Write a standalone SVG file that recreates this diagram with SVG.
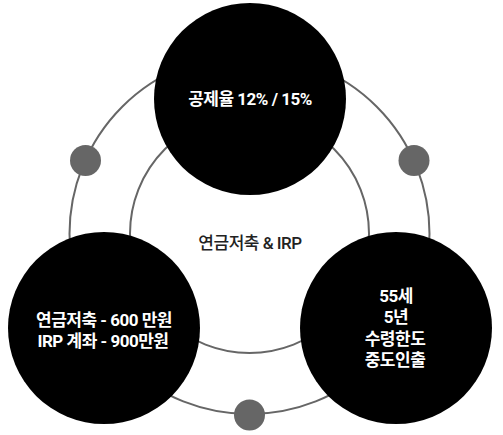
<svg xmlns="http://www.w3.org/2000/svg" width="503" height="435" viewBox="0 0 503 435">
<style>
.ring{fill:none;stroke:#666;stroke-width:2}
.dot{fill:#666}
.node{fill:#000}
.lbl{font-family:Roboto,"Noto Sans CJK KR",sans-serif;font-size:17px;font-weight:700;fill:#fff;text-anchor:middle;letter-spacing:-0.5px}
.center{font-family:Roboto,"Noto Sans CJK KR",sans-serif;font-size:17px;font-weight:500;fill:#222;text-anchor:middle;letter-spacing:-0.5px}
</style>
<rect width="503" height="435" fill="#fff"/>
<g id="connectors">
<circle class="ring" cx="249.5" cy="234" r="180"/>
<circle class="ring" cx="249.5" cy="233.5" r="119.5"/>
<circle class="dot" cx="85.5" cy="160.5" r="15.5"/>
<circle class="dot" cx="414" cy="160.5" r="15.5"/>
<circle class="dot" cx="249.5" cy="415" r="15.5"/>
</g>
<g id="center-label">
<text class="center" x="250" y="248.5">연금저축 &amp; IRP</text>
</g>
<g id="node-top">
<circle class="node" cx="250" cy="99" r="96"/>
<text class="lbl" x="250" y="104.5">공제율 12% / 15%</text>
</g>
<g id="node-left">
<circle class="node" cx="104" cy="328" r="96"/>
<text class="lbl" x="104" y="325.5">연금저축 - 600 만원</text>
<text class="lbl" x="103" y="346.5">IRP 계좌 - 900만원</text>
</g>
<g id="node-right">
<circle class="node" cx="396" cy="328" r="96"/>
<text class="lbl" x="396" y="302">55세</text>
<text class="lbl" x="396" y="323">5년</text>
<text class="lbl" x="395" y="344.5">수령한도</text>
<text class="lbl" x="395" y="365.5">중도인출</text>
</g>
</svg>
